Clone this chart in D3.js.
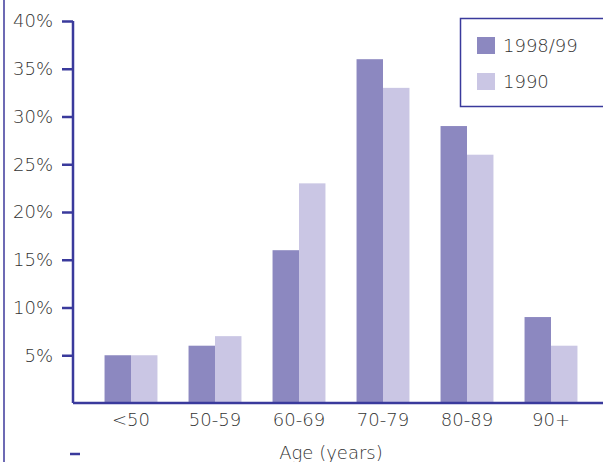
<!DOCTYPE html>
<html>
<head>
<meta charset="utf-8">
<script src="https://cdn.jsdelivr.net/npm/d3@7"></script>
<style>
  html, body { margin: 0; padding: 0; background: #fff; }
  svg { display: block; }
  text { font-family: "DejaVu Sans", sans-serif; font-weight: 200; fill: #333; }
</style>
</head>
<body>
<svg id="chart" width="603" height="462"></svg>
<script>
// Age groups and share of patients (%) for each survey period
const categories = ["<50", "50-59", "60-69", "70-79", "80-89", "90+"];
const series = ["1998/99", "1990"];
const values1998 = [5, 6, 16, 36, 29, 9];
const values1990 = [5, 7, 23, 33, 26, 6];
const yTicks = [5, 10, 15, 20, 25, 30, 35, 40];

const colors = { "1998/99": "#8c88c0", "1990": "#cac6e4" };
const axisColor = "#3a3a9c";

const svg = d3.select("#chart");
const margin = { left: 73, top: 21, bottom: 403 };

const x = d3.scaleBand().domain(categories).range([89, 593]).paddingInner(0.37).paddingOuter(0.185);
const x1 = d3.scaleBand().domain(series).range([0, x.bandwidth()]);
const y = d3.scaleLinear().domain([0, 40]).range([margin.bottom, margin.top]);

// Frame line along the left edge
svg.append("line")
  .attr("x1", 4).attr("x2", 4).attr("y1", 0).attr("y2", 462)
  .attr("stroke", "#6d6ab4").attr("stroke-width", 2);

// Bars
const rows = categories.map((c, i) => ({ cat: c, vals: [
  { s: "1998/99", v: values1998[i] }, { s: "1990", v: values1990[i] }] }));

const g = svg.append("g").selectAll("g").data(rows).join("g")
  .attr("transform", d => `translate(${x(d.cat)},0)`);
g.selectAll("rect").data(d => d.vals).join("rect")
  .attr("x", d => x1(d.s))
  .attr("width", x1.bandwidth())
  .attr("y", d => y(d.v))
  .attr("height", d => y(0) - y(d.v))
  .attr("fill", d => colors[d.s]);

// Y axis
const yAxis = svg.append("g").attr("transform", `translate(${margin.left},0)`)
  .call(d3.axisLeft(y).tickValues(yTicks).tickFormat(d => d + "%").tickSize(11).tickPadding(9));
yAxis.select(".domain").attr("stroke", axisColor).attr("stroke-width", 2.5)
  .attr("d", `M0,${y(40)}V${y(0)}`);
yAxis.selectAll(".tick line").attr("stroke", axisColor).attr("stroke-width", 2.5);
yAxis.selectAll(".tick text").style("font-size", "18px").attr("fill", "#333");

// X axis
const xAxis = svg.append("g").attr("transform", `translate(0,${y(0)})`)
  .call(d3.axisBottom(x).tickSize(0).tickPadding(10));
xAxis.select(".domain").attr("stroke", axisColor).attr("stroke-width", 2.5)
  .attr("d", `M${margin.left},0H603`);
xAxis.selectAll(".tick text").style("font-size", "18px").attr("fill", "#333");

// Axis title
svg.append("text")
  .attr("x", 331).attr("y", 459)
  .attr("text-anchor", "middle")
  .style("font-size", "18px")
  .text("Age (years)");

svg.append("line")
  .attr("x1", 70).attr("x2", 80).attr("y1", 454).attr("y2", 454)
  .attr("stroke", axisColor).attr("stroke-width", 2.5);

// Legend
const legend = svg.append("g");
legend.append("rect")
  .attr("x", 460.5).attr("y", 18.5).attr("width", 150).attr("height", 88)
  .attr("fill", "#fff").attr("stroke", axisColor).attr("stroke-width", 1.5);
series.forEach((s, i) => {
  const ly = 37 + i * 36;
  legend.append("rect").attr("x", 477).attr("y", ly).attr("width", 18).attr("height", 17)
    .attr("fill", colors[s]);
  legend.append("text").attr("x", 503).attr("y", ly + 15)
    .style("font-size", "18px").text(s);
});
</script>
</body>
</html>
